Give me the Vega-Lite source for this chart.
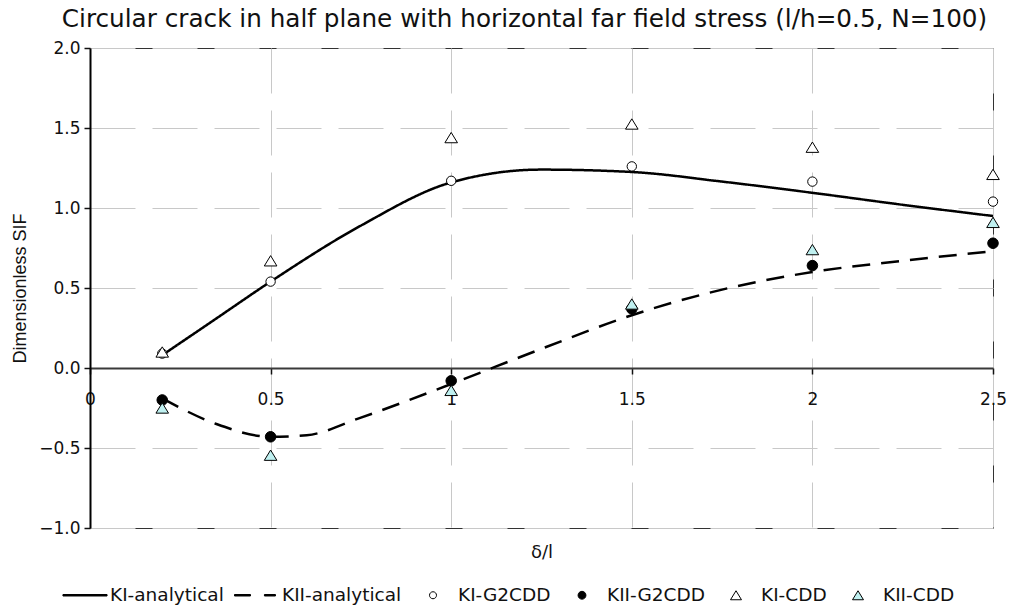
{
  "$schema": "https://vega.github.io/schema/vega-lite/v6.json",
  "width": 903,
  "height": 480,
  "autosize": {"type": "none"},
  "padding": {"left": 90, "top": 48, "right": 17, "bottom": 79},
  "background": "white",
  "config": {
    "font": "DejaVu Sans",
    "view": {"stroke": "#333", "strokeWidth": 1},
    "legend": {"symbolSize": 2025, "symbolStrokeWidth": 1}
  },
  "title": {
    "text": "Circular crack in half plane with horizontal far field stress (l/h=0.5, N=100)",
    "font": "DejaVu Sans",
    "fontSize": 24.7,
    "fontWeight": "normal",
    "color": "#111",
    "anchor": "middle",
    "dx": -17,
    "offset": 7
  },
  "data": {
    "values": [
      {"series": "KI-analytical", "x": 0.2, "y": 0.08},
      {"series": "KI-analytical", "x": 0.35, "y": 0.31},
      {"series": "KI-analytical", "x": 0.5, "y": 0.54},
      {"series": "KI-analytical", "x": 0.75, "y": 0.89},
      {"series": "KI-analytical", "x": 1.0, "y": 1.16},
      {"series": "KI-analytical", "x": 1.25, "y": 1.24},
      {"series": "KI-analytical", "x": 1.5, "y": 1.225},
      {"series": "KI-analytical", "x": 1.75, "y": 1.165},
      {"series": "KI-analytical", "x": 2.0, "y": 1.095},
      {"series": "KI-analytical", "x": 2.25, "y": 1.02},
      {"series": "KI-analytical", "x": 2.5, "y": 0.95},
      {"series": "KII-analytical", "x": 0.2, "y": -0.19},
      {"series": "KII-analytical", "x": 0.35, "y": -0.35},
      {"series": "KII-analytical", "x": 0.5, "y": -0.43},
      {"series": "KII-analytical", "x": 0.6, "y": -0.42},
      {"series": "KII-analytical", "x": 0.75, "y": -0.31},
      {"series": "KII-analytical", "x": 1.0, "y": -0.1},
      {"series": "KII-analytical", "x": 1.25, "y": 0.12},
      {"series": "KII-analytical", "x": 1.5, "y": 0.33},
      {"series": "KII-analytical", "x": 1.75, "y": 0.49},
      {"series": "KII-analytical", "x": 2.0, "y": 0.6},
      {"series": "KII-analytical", "x": 2.25, "y": 0.67},
      {"series": "KII-analytical", "x": 2.5, "y": 0.73},
      {"series": "KI-G2CDD", "x": 0.2, "y": 0.09},
      {"series": "KI-G2CDD", "x": 0.5, "y": 0.54},
      {"series": "KI-G2CDD", "x": 1.0, "y": 1.17},
      {"series": "KI-G2CDD", "x": 1.5, "y": 1.26},
      {"series": "KI-G2CDD", "x": 2.0, "y": 1.165},
      {"series": "KI-G2CDD", "x": 2.5, "y": 1.04},
      {"series": "KII-G2CDD", "x": 0.2, "y": -0.2},
      {"series": "KII-G2CDD", "x": 0.5, "y": -0.43},
      {"series": "KII-G2CDD", "x": 1.0, "y": -0.08},
      {"series": "KII-G2CDD", "x": 1.5, "y": 0.37},
      {"series": "KII-G2CDD", "x": 2.0, "y": 0.64},
      {"series": "KII-G2CDD", "x": 2.5, "y": 0.78},
      {"series": "KI-CDD", "x": 0.2, "y": 0.1},
      {"series": "KI-CDD", "x": 0.5, "y": 0.67},
      {"series": "KI-CDD", "x": 1.0, "y": 1.44},
      {"series": "KI-CDD", "x": 1.5, "y": 1.525},
      {"series": "KI-CDD", "x": 2.0, "y": 1.38},
      {"series": "KI-CDD", "x": 2.5, "y": 1.21},
      {"series": "KII-CDD", "x": 0.2, "y": -0.25},
      {"series": "KII-CDD", "x": 0.5, "y": -0.545},
      {"series": "KII-CDD", "x": 1.0, "y": -0.14},
      {"series": "KII-CDD", "x": 1.5, "y": 0.4},
      {"series": "KII-CDD", "x": 2.0, "y": 0.74},
      {"series": "KII-CDD", "x": 2.5, "y": 0.91}
    ]
  },
  "encoding": {
    "x": {
      "field": "x",
      "type": "quantitative",
      "scale": {"domain": [0, 2.5], "nice": false, "zero": false},
      "axis": {
        "values": [0, 0.5, 1, 1.5, 2, 2.5],
        "labelExpr": "datum.value == 0 ? '0' : format(datum.value, '')",
        "offset": -160,
        "domainColor": "#3a3a3a",
        "domainWidth": 2,
        "tickColor": "#111",
        "tickSize": 6,
        "tickWidth": 1.5,
        "labelPadding": 17,
        "labelFont": "DejaVu Sans",
        "labelFontSize": 17,
        "labelColor": "#111",
        "labelFlush": false,
        "grid": true,
        "gridColor": "#c8c8c8",
        "gridDash": [45, 17],
        "gridWidth": 1,
        "title": "δ/l",
        "titleFont": "DejaVu Sans",
        "titleFontSize": 18,
        "titleFontWeight": "normal",
        "titleColor": "#111",
        "titleY": 175,
        "titleBaseline": "top"
      }
    },
    "y": {
      "field": "y",
      "type": "quantitative",
      "scale": {"domain": [-1, 2], "nice": false},
      "axis": {
        "values": [-1, -0.5, 0, 0.5, 1, 1.5, 2],
        "format": ".1f",
        "domainColor": "#000",
        "domainWidth": 2,
        "tickColor": "#111",
        "tickSize": 6,
        "tickWidth": 1.5,
        "labelPadding": 4,
        "labelFont": "DejaVu Sans",
        "labelFontSize": 17,
        "labelColor": "#111",
        "grid": true,
        "gridColor": "#c8c8c8",
        "gridDash": [45, 17],
        "gridWidth": 1,
        "title": "Dimensionless SIF",
        "titleFont": "Liberation Sans",
        "titleFontSize": 18,
        "titleFontWeight": "normal",
        "titleColor": "#111",
        "titleX": -70,
        "titleY": 240,
        "titleAngle": 270,
        "titleAlign": "center",
        "titleBaseline": "middle"
      }
    }
  },
  "layer": [
    {
      "transform": [{"filter": {"field": "series", "oneOf": ["KI-analytical", "KII-analytical"]}}],
      "mark": {"type": "line", "color": "black", "strokeWidth": 2.5, "interpolate": "monotone"},
      "encoding": {
        "strokeDash": {
          "field": "series",
          "type": "nominal",
          "scale": {"domain": ["KI-analytical", "KII-analytical"], "range": [[1, 0], [18, 11]]},
          "legend": null
        }
      }
    },
    {
      "transform": [{"filter": {"field": "series", "oneOf": ["KI-G2CDD", "KII-G2CDD"]}}],
      "mark": {"type": "point", "filled": true, "strokeWidth": 1, "size": 3630, "opacity": 1},
      "encoding": {
        "shape": {
          "field": "series",
          "type": "nominal",
          "scale": {
            "domain": ["KI-analytical", "KII-analytical", "KI-G2CDD", "KII-G2CDD", "KI-CDD", "KII-CDD"],
            "range": [
              "M-0.98,-0.033H0.98V0.033H-0.98Z",
              "M-1,-0.033H-0.29V0.033H-1ZM0.33,-0.033H0.82V0.033H0.33Z",
              "M0.156,0A0.156,0.156 0 1,1 -0.156,0A0.156,0.156 0 1,1 0.156,0Z",
              "M0.175,0A0.175,0.175 0 1,1 -0.175,0A0.175,0.175 0 1,1 0.175,0Z",
              "M0,-0.2L0.244,0.2L-0.244,0.2Z",
              "M0,-0.2L0.244,0.2L-0.244,0.2Z"
            ]
          },
          "legend": {
            "title": null,
            "orient": "none",
            "direction": "horizontal",
            "legendX": -28,
            "legendY": 524,
            "labelFont": "DejaVu Sans",
            "labelFontSize": 18.5,
            "labelColor": "#111",
            "labelOffset": 2,
            "columnPadding": 8,
            "labelLimit": 300
          }
        },
        "fill": {
          "field": "series",
          "type": "nominal",
          "scale": {
            "domain": ["KI-analytical", "KII-analytical", "KI-G2CDD", "KII-G2CDD", "KI-CDD", "KII-CDD"],
            "range": ["black", "black", "white", "black", "white", "#bff0f0"]
          },
          "legend": {
            "title": null,
            "orient": "none",
            "direction": "horizontal",
            "legendX": -28,
            "legendY": 524,
            "labelFont": "DejaVu Sans",
            "labelFontSize": 18.5,
            "labelColor": "#111",
            "labelOffset": 2,
            "columnPadding": 8,
            "labelLimit": 300
          }
        },
        "stroke": {
          "field": "series",
          "type": "nominal",
          "scale": {
            "domain": ["KI-analytical", "KII-analytical", "KI-G2CDD", "KII-G2CDD", "KI-CDD", "KII-CDD"],
            "range": ["black", "black", "black", "black", "black", "black"]
          },
          "legend": {
            "title": null,
            "orient": "none",
            "direction": "horizontal",
            "legendX": -28,
            "legendY": 524,
            "labelFont": "DejaVu Sans",
            "labelFontSize": 18.5,
            "labelColor": "#111",
            "labelOffset": 2,
            "columnPadding": 8,
            "labelLimit": 300
          }
        }
      }
    },
    {
      "transform": [{"filter": {"field": "series", "oneOf": ["KI-CDD", "KII-CDD"]}}],
      "mark": {"type": "point", "filled": true, "strokeWidth": 1, "size": 2665, "opacity": 1},
      "encoding": {
        "shape": {"field": "series", "type": "nominal"},
        "fill": {"field": "series", "type": "nominal"},
        "stroke": {"field": "series", "type": "nominal"}
      }
    }
  ]
}
